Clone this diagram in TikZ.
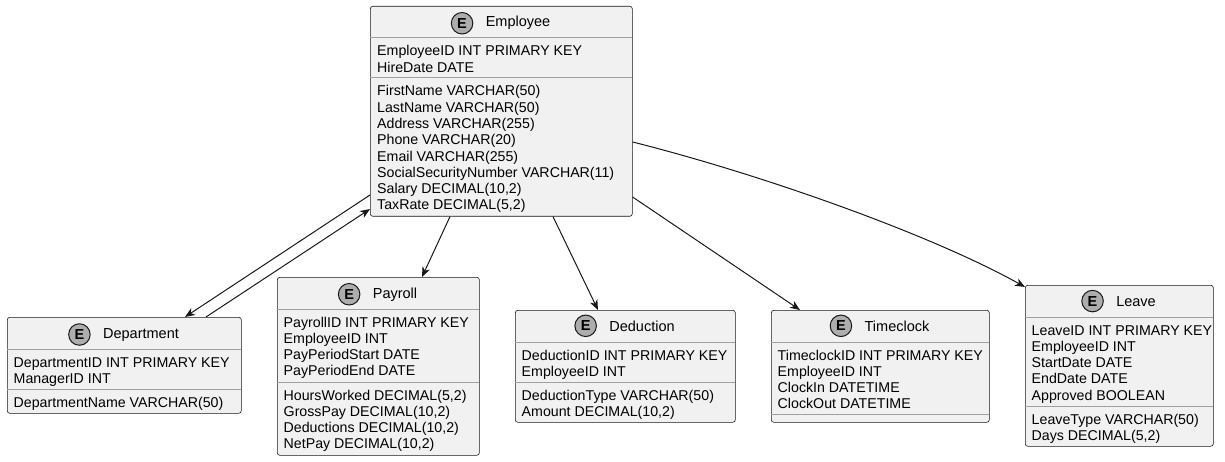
\documentclass[tikz,border=0pt]{standalone}
\usepackage{fontspec}
\setmainfont{Liberation Sans}
\usetikzlibrary{calc,arrows.meta}
\definecolor{boxfill}{HTML}{F1F1F1}
\definecolor{boxline}{HTML}{181818}
\definecolor{sepline}{HTML}{A0A0A0}
\definecolor{circfill}{HTML}{ADADAD}
\begin{document}
\begin{tikzpicture}[x=1pt,y=-1pt,
  entbox/.style={draw=boxline, fill=boxfill, line width=0.6pt, rounded corners=2.5pt, anchor=north west, inner sep=0pt},
  sepl/.style={draw=sepline, line width=1pt},
  attr/.style={anchor=base west, inner sep=0pt, font=\fontsize{14.2}{16.2}\selectfont, text=black},
  ttl/.style={anchor=base, inner sep=0pt, font=\fontsize{14.5}{16.2}\selectfont, text=black},
  ecirc/.style={circle, draw=boxline, fill=circfill, line width=1pt, minimum size=21.5pt, inner sep=0pt, font=\fontsize{14.5}{14.5}\selectfont\bfseries},
  conn/.style={draw=boxline, line width=1pt, -{Stealth[length=10pt,width=8pt,inset=3pt]}}
]
\useasboundingbox (0,0) rectangle (1225,462);

% ---------- Employee ----------
\node[entbox, minimum width=262pt, minimum height=210pt] (emp) at (370,6) {};
\draw[sepl] (370,38) -- (632,38);
\draw[sepl] (370,78) -- (632,78);
\node[ttl] (empT) at (518,27) {Employee};
\node[ecirc] (empC) at ($(empT.west)+(-23.5,0)$) {E};
\node[attr] (e1) at (377,56) {EmployeeID INT PRIMARY KEY};
\node[attr] (e2) at (377,72.2) {HireDate DATE};
\node[attr] (e3) at (377,96) {FirstName VARCHAR(50)};
\node[attr] (e4) at (377,112.3) {LastName VARCHAR(50)};
\node[attr] (e5) at (377,128.6) {Address VARCHAR(255)};
\node[attr] (e6) at (377,144.9) {Phone VARCHAR(20)};
\node[attr] (e7) at (377,161.1) {Email VARCHAR(255)};
\node[attr] (e8) at (377,177.4) {SocialSecurityNumber VARCHAR(11)};
\node[attr] (e9) at (377,193.7) {Salary DECIMAL(10,2)};
\node[attr] (e10) at (377,210) {TaxRate DECIMAL(5,2)};

% ---------- Department ----------
\node[entbox, minimum width=234pt, minimum height=96pt] (dept) at (7,317) {};
\draw[sepl] (7,349) -- (241,349);
\draw[sepl] (7,389) -- (241,389);
\node[ttl] (deptT) at (141,338) {Department};
\node[ecirc] (deptC) at ($(deptT.west)+(-23.5,0)$) {E};
\node[attr] (d1) at (13.5,367) {DepartmentID INT PRIMARY KEY};
\node[attr] (d2) at (13.5,383.2) {ManagerID INT};
\node[attr] (d3) at (13.5,407) {DepartmentName VARCHAR(50)};

% ---------- Payroll ----------
\node[entbox, minimum width=202pt, minimum height=178pt] (pay) at (277,277) {};
\draw[sepl] (277,309) -- (479,309);
\draw[sepl] (277,382) -- (479,382);
\node[ttl] (payT) at (395,298) {Payroll};
\node[ecirc] (payC) at ($(payT.west)+(-23.5,0)$) {E};
\node[attr] (p1) at (283.5,327) {PayrollID INT PRIMARY KEY};
\node[attr] (p2) at (283.5,343.3) {EmployeeID INT};
\node[attr] (p3) at (283.5,359.5) {PayPeriodStart DATE};
\node[attr] (p4) at (283.5,375.8) {PayPeriodEnd DATE};
\node[attr] (p5) at (283.5,400) {HoursWorked DECIMAL(5,2)};
\node[attr] (p6) at (283.5,416.3) {GrossPay DECIMAL(10,2)};
\node[attr] (p7) at (283.5,432.5) {Deductions DECIMAL(10,2)};
\node[attr] (p8) at (283.5,448.8) {NetPay DECIMAL(10,2)};

% ---------- Deduction ----------
\node[entbox, minimum width=220pt, minimum height=112pt] (ded) at (515,310) {};
\draw[sepl] (515,342) -- (735,342);
\draw[sepl] (515,382) -- (735,382);
\node[ttl] (dedT) at (642,331) {Deduction};
\node[ecirc] (dedC) at ($(dedT.west)+(-23.5,0)$) {E};
\node[attr] (x1) at (521.5,360) {DeductionID INT PRIMARY KEY};
\node[attr] (x2) at (521.5,376.3) {EmployeeID INT};
\node[attr] (x3) at (521.5,400) {DeductionType VARCHAR(50)};
\node[attr] (x4) at (521.5,416.3) {Amount DECIMAL(10,2)};

% ---------- Timeclock ----------
\node[entbox, minimum width=218pt, minimum height=112pt] (time) at (771,310) {};
\draw[sepl] (771,342) -- (989,342);
\draw[sepl] (771,414.5) -- (989,414.5);
\node[ttl] (timeT) at (897,331) {Timeclock};
\node[ecirc] (timeC) at ($(timeT.west)+(-23.5,0)$) {E};
\node[attr] (t1) at (777.5,360) {TimeclockID INT PRIMARY KEY};
\node[attr] (t2) at (777.5,376.3) {EmployeeID INT};
\node[attr] (t3) at (777.5,392.5) {ClockIn DATETIME};
\node[attr] (t4) at (777.5,408.8) {ClockOut DATETIME};

% ---------- Leave ----------
\node[entbox, minimum width=188pt, minimum height=161pt] (leave) at (1025,285) {};
\draw[sepl] (1025,317) -- (1213,317);
\draw[sepl] (1025,406) -- (1213,406);
\node[ttl] (leaveT) at (1136,306) {Leave};
\node[ecirc] (leaveC) at ($(leaveT.west)+(-23.5,0)$) {E};
\node[attr] (l1) at (1031.5,335) {LeaveID INT PRIMARY KEY};
\node[attr] (l2) at (1031.5,351.3) {EmployeeID INT};
\node[attr] (l3) at (1031.5,367.5) {StartDate DATE};
\node[attr] (l4) at (1031.5,383.8) {EndDate DATE};
\node[attr] (l5) at (1031.5,400) {Approved BOOLEAN};
\node[attr] (l6) at (1031.5,424) {LeaveType VARCHAR(50)};
\node[attr] (l7) at (1031.5,440.3) {Days DECIMAL(5,2)};

% ---------- Connectors ----------
\draw[conn] ($(emp.north west)+(0,189)$) -- ($(dept.north west)+(178,0)$);
\draw[conn] ($(dept.north west)+(199,0)$) -- ($(emp.north west)+(0,203)$);
\draw[conn] ($(emp.south west)+(80,0)$) -- ($(pay.north west)+(145,0)$);
\draw[conn] ($(emp.south west)+(183,0)$) -- ($(ded.north west)+(83,0)$);
\draw[conn] ($(emp.north east)+(0,191)$) -- ($(time.north west)+(29,0)$);
\draw[conn] ($(emp.north east)+(0,136)$) .. controls (760,174) and (930,234) .. ($(leave.north west)+(0,2)$);
\end{tikzpicture}
\end{document}
